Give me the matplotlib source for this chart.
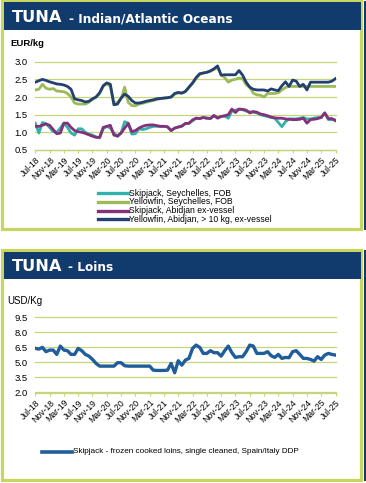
import matplotlib.pyplot as plt
from matplotlib.patches import Rectangle
from matplotlib.lines import Line2D
import numpy as np

# monthly prices, Jul-18 .. Jul-25
tick_labels = ['Jul-18', 'Nov-18', 'Mar-19', 'Jul-19', 'Nov-19', 'Mar-20', 'Jul-20',
               'Nov-20', 'Mar-21', 'Jul-21', 'Nov-21', 'Mar-22', 'Jul-22', 'Nov-22',
               'Mar-23', 'Jul-23', 'Nov-23', 'Mar-24', 'Jul-24', 'Nov-24', 'Mar-25', 'Jul-25']

sj_seychelles = [1.26, 0.98, 1.28, 1.24, 1.14, 1.02, 1.00, 1.12, 1.26, 1.14,
                 0.98, 0.92, 1.10, 1.10, 1.00, 0.95, 0.92, 0.87, 0.84, 1.10,
                 1.17, 1.12, 0.98, 0.88, 0.98, 1.30, 1.26, 0.95, 0.96, 1.10,
                 1.08, 1.10, 1.14, 1.17, 1.17, 1.17, 1.17, 1.15, 1.05, 1.12,
                 1.15, 1.17, 1.25, 1.25, 1.33, 1.40, 1.39, 1.42, 1.40, 1.40,
                 1.46, 1.42, 1.45, 1.46, 1.40, 1.60, 1.63, 1.65, 1.64, 1.60,
                 1.58, 1.57, 1.55, 1.50, 1.47, 1.45, 1.42, 1.40, 1.28, 1.16,
                 1.30, 1.38, 1.38, 1.38, 1.40, 1.42, 1.38, 1.38, 1.40, 1.42,
                 1.42, 1.55, 1.36, 1.36, 1.35]

yf_seychelles = [2.20, 2.22, 2.36, 2.25, 2.22, 2.24, 2.17, 2.16, 2.15, 2.10,
                 2.00, 1.83, 1.80, 1.80, 1.80, 1.85, 1.93, 2.00, 2.10, 2.30,
                 2.38, 2.30, 1.82, 1.85, 1.95, 2.28, 1.85, 1.76, 1.75, 1.80,
                 1.82, 1.85, 1.88, 1.90, 1.93, 1.95, 1.97, 1.98, 2.00, 2.08,
                 2.12, 2.11, 2.15, 2.27, 2.38, 2.52, 2.64, 2.68, 2.70, 2.73,
                 2.78, 2.83, 2.63, 2.55, 2.42, 2.48, 2.50, 2.54, 2.52, 2.35,
                 2.27, 2.11, 2.06, 2.05, 2.00, 2.10, 2.10, 2.10, 2.12, 2.20,
                 2.27, 2.30, 2.30, 2.30, 2.30, 2.30, 2.30, 2.30, 2.30, 2.30,
                 2.30, 2.30, 2.30, 2.30, 2.30]

sj_abidjan = [1.17, 1.17, 1.20, 1.24, 1.20, 1.08, 0.96, 0.98, 1.26, 1.26,
              1.14, 1.05, 1.02, 1.00, 0.97, 0.93, 0.89, 0.86, 0.86, 1.14,
              1.17, 1.20, 0.92, 0.90, 0.98, 1.12, 1.25, 1.02, 1.05, 1.12,
              1.17, 1.20, 1.21, 1.21, 1.19, 1.17, 1.17, 1.16, 1.05, 1.12,
              1.15, 1.18, 1.25, 1.26, 1.35, 1.40, 1.39, 1.42, 1.40, 1.39,
              1.48, 1.40, 1.45, 1.47, 1.50, 1.66, 1.56, 1.66, 1.65, 1.63,
              1.55, 1.59, 1.57, 1.52, 1.50, 1.47, 1.43, 1.41, 1.40, 1.40,
              1.38, 1.37, 1.36, 1.36, 1.37, 1.40, 1.26, 1.36, 1.37, 1.39,
              1.42, 1.55, 1.39, 1.39, 1.33]

yf_abidjan = [2.42, 2.46, 2.50, 2.47, 2.43, 2.40, 2.37, 2.36, 2.34, 2.30,
              2.22, 1.95, 1.92, 1.90, 1.86, 1.88, 1.95, 2.00, 2.12, 2.32,
              2.40, 2.36, 1.78, 1.80, 1.97, 2.08, 2.02, 1.90, 1.83, 1.83,
              1.85, 1.88, 1.90, 1.92, 1.95, 1.96, 1.97, 1.98, 2.00, 2.10,
              2.13, 2.11, 2.16, 2.28, 2.40, 2.55, 2.66, 2.68, 2.70, 2.74,
              2.80, 2.88, 2.62, 2.63, 2.63, 2.63, 2.63, 2.75, 2.62, 2.42,
              2.28, 2.22, 2.20, 2.20, 2.20, 2.17, 2.23, 2.20, 2.18, 2.32,
              2.43, 2.30, 2.48, 2.45, 2.30, 2.36, 2.20, 2.42, 2.42, 2.42,
              2.42, 2.42, 2.42, 2.45, 2.52]

loins = [6.40, 6.33, 6.50, 6.07, 6.23, 6.23, 5.80, 6.63, 6.23, 6.17,
         5.80, 5.80, 6.40, 6.17, 5.80, 5.63, 5.30, 4.90, 4.63, 4.63,
         4.63, 4.63, 4.63, 4.97, 4.97, 4.67, 4.63, 4.63, 4.63, 4.63,
         4.63, 4.63, 4.63, 4.23, 4.20, 4.20, 4.20, 4.23, 4.90, 3.97,
         5.17, 4.73, 5.23, 5.40, 6.40, 6.73, 6.50, 5.90, 5.90, 6.17,
         5.97, 5.97, 5.63, 6.17, 6.63, 5.97, 5.50, 5.57, 5.57, 6.07,
         6.73, 6.63, 5.90, 5.90, 5.90, 6.07, 5.67, 5.50, 5.80, 5.40,
         5.50, 5.47, 6.07, 6.17, 5.80, 5.40, 5.40, 5.30, 5.13, 5.57,
         5.30, 5.73, 5.90, 5.80, 5.73]

top_labels = ['Skipjack, Seychelles, FOB', 'Yellowfin, Seychelles, FOB',
              'Skipjack, Abidjan ex-vessel', 'Yellowfin, Abidjan, > 10 kg, ex-vessel']
top_colors = ['#31b2ac', '#9bbb59', '#862f7a', '#243f72']
loins_label = 'Skipjack - frozen cooked loins, single cleaned, Spain/Italy DDP'

W, H = 366, 483
NAVY = '#123b6d'
BORDER = '#c8d65f'
GRID = '#c6d47a'
FONT = 'Liberation Sans'

fig = plt.figure(figsize=(W / 100, H / 100), dpi=100)


def fx(x):
    return x / W


def fy(y):
    return 1 - y / H


def panel(y0, y1, title, sub, sub_x):
    fig.add_artist(Rectangle((fx(2), fy(y1)), fx(361) - fx(2), fy(y0) - fy(y1),
                             facecolor='white', edgecolor=BORDER, linewidth=2.3, zorder=-2))
    fig.add_artist(Rectangle((fx(4), fy(y0 + 29)), fx(361) - fx(4), fy(y0 + 1.5) - fy(y0 + 29),
                             facecolor=NAVY, edgecolor='none', zorder=-1))
    fig.add_artist(Rectangle((fx(364), fy(y1 + 1)), fx(2), fy(y0) - fy(y1 + 1),
                             facecolor=NAVY, edgecolor='none', zorder=-1))
    fig.text(fx(12), fy(y0 + 21), title, color='white', fontsize=11.7, fontweight='bold',
             family='DejaVu Sans', va='baseline')
    fig.text(fx(sub_x), fy(y0 + 21), sub, color='white', fontsize=8.7, fontweight='bold',
             family='DejaVu Sans', va='baseline')


def style_axes(ax, yticks, fmt):
    ax.set_facecolor('none')
    for s in ['top', 'left', 'right']:
        ax.spines[s].set_visible(False)
    ax.spines['bottom'].set_color(GRID)
    ax.spines['bottom'].set_linewidth(0.9)
    ax.set_xlim(0, 84)
    ax.set_ylim(yticks[0], yticks[-1])
    ax.set_yticks(yticks)
    ax.set_yticklabels([fmt % v for v in yticks], fontsize=6.8, family=FONT)
    ax.yaxis.grid(True, color=GRID, linewidth=0.9)
    ax.set_axisbelow(True)
    ax.tick_params(axis='y', length=0, pad=5.5)
    ax.set_xticks(np.arange(0, 85, 4))
    ax.set_xticklabels(tick_labels, rotation=45, ha='right', va='top',
                       rotation_mode='anchor', fontsize=6.2, family=FONT)
    ax.tick_params(axis='x', length=2.5, width=0.8, color=GRID, pad=1.5)
    for g in ax.get_ygridlines():
        g.set_clip_on(False)


months = np.arange(len(yf_abidjan))

# --- top panel
panel(1, 229, 'TUNA', '- Indian/Atlantic Oceans', 69)
ax1 = fig.add_axes([fx(35.3), fy(150), fx(335.5) - fx(35.3), fy(61.7) - fy(150)])
style_axes(ax1, [0.5, 1.0, 1.5, 2.0, 2.5, 3.0], '%.1f')
for vals, c in zip([sj_seychelles, yf_seychelles, sj_abidjan, yf_abidjan], top_colors):
    ax1.plot(months, vals, color=c, linewidth=2.0, solid_joinstyle='round')
fig.text(fx(10), fy(43), 'EUR/kg', fontsize=6.8, fontweight='bold', family=FONT, va='center')

leg_y = [193.3, 202, 210.5, 219]
for lab, c, y in zip(top_labels, top_colors, leg_y):
    fig.add_artist(Line2D([fx(98), fx(128)], [fy(y), fy(y)], color=c, linewidth=2.4))
    fig.text(fx(129), fy(y), lab, fontsize=6.2, family=FONT, va='center')

# --- bottom panel
panel(250, 480, 'TUNA', '- Loins', 68)
ax2 = fig.add_axes([fx(35.3), fy(392.5), fx(335.5) - fx(35.3), fy(317.3) - fy(392.5)])
style_axes(ax2, [2.0, 3.5, 5.0, 6.5, 8.0, 9.5], '%.1f')
ax2.plot(months, loins, color='#1f5d9b', linewidth=2.4, solid_joinstyle='round')
fig.text(fx(7), fy(301.5), 'USD/Kg', fontsize=7, family=FONT, va='center')

fig.add_artist(Line2D([fx(42), fx(72)], [fy(451.7), fy(451.7)], color='#1f5d9b', linewidth=2.6))
fig.text(fx(73), fy(451.7), loins_label, fontsize=5.9, family=FONT, va='center')

fig.savefig('out.png', dpi=100)
